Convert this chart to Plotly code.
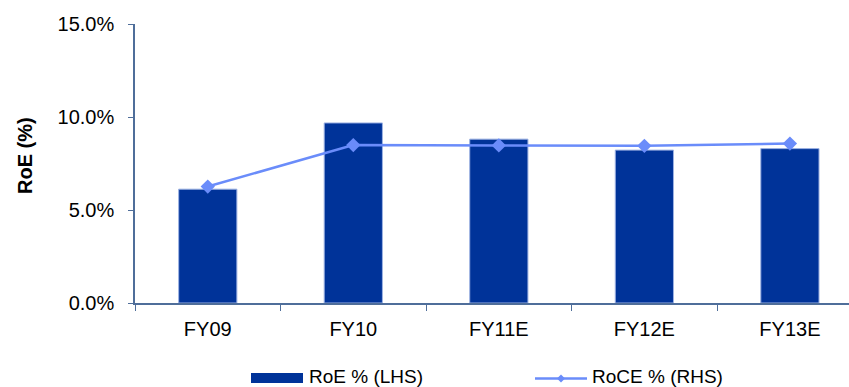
import plotly.graph_objects as go

# Return on equity (bars) and return on capital employed (line), in percent
categories = ["FY09", "FY10", "FY11E", "FY12E", "FY13E"]
roe_pct = [6.12, 9.68, 8.81, 8.22, 8.30]
roce_pct = [6.26, 8.49, 8.47, 8.45, 8.57]
y_tick_vals = [0, 5, 10, 15]
y_tick_text = ["0.0%", "5.0%", "10.0%", "15.0%"]

BAR_COLOR = "#003399"
BAR_EDGE = "#9DB2E3"
LINE_COLOR = "#6A8CFA"
AXIS_COLOR = "#4F6E9A"
FONT = "Liberation Sans, Arial, sans-serif"

W, H = 849, 387
L, T, R, B = 135, 24, 0, 84
plot_w = W - L - R
plot_h = H - T - B


def px(x):
    return (x - L) / plot_w


def py(y):
    return (H - B - y) / plot_h


fig = go.Figure()
fig.add_trace(go.Bar(
    x=categories, y=roe_pct, name="RoE % (LHS)",
    marker=dict(color=BAR_COLOR, line=dict(color=BAR_EDGE, width=1)),
    width=0.4, showlegend=False,
))
fig.add_trace(go.Scatter(
    x=categories, y=roce_pct, name="RoCE % (RHS)", mode="lines+markers",
    line=dict(color=LINE_COLOR, width=2.5),
    marker=dict(symbol="diamond", size=11, color=LINE_COLOR),
    showlegend=False,
))

shapes = [
    # legend swatch for the bars
    dict(type="rect", xref="paper", yref="paper",
         x0=px(251), x1=px(303), y0=py(383), y1=py(373),
         fillcolor=BAR_COLOR, line=dict(width=0)),
    # legend swatch for the line
    dict(type="line", xref="paper", yref="paper",
         x0=px(535), x1=px(587), y0=py(378.5), y1=py(378.5),
         line=dict(color=LINE_COLOR, width=2.5)),
    dict(type="path", xref="paper", yref="paper",
         path=(f"M {px(561)} {py(374.5)} L {px(565)} {py(378.5)} "
               f"L {px(561)} {py(382.5)} L {px(557)} {py(378.5)} Z"),
         fillcolor=LINE_COLOR, line=dict(width=0)),
]

annotations = [
    dict(text="<b>RoE (%)</b>", xref="paper", yref="paper",
         x=px(25), y=py(156), textangle=-90, showarrow=False,
         font=dict(size=20, color="black", family=FONT),
         xanchor="center", yanchor="middle"),
    dict(text="RoE % (LHS)", xref="paper", yref="paper",
         x=px(308), y=py(376), showarrow=False, xanchor="left", yanchor="middle",
         borderpad=0, font=dict(size=19, color="black", family=FONT)),
    dict(text="RoCE % (RHS)", xref="paper", yref="paper",
         x=px(591), y=py(376), showarrow=False, xanchor="left", yanchor="middle",
         borderpad=0, font=dict(size=19, color="black", family=FONT)),
]

fig.update_layout(
    width=W, height=H,
    margin=dict(l=L, r=R, t=T, b=B, pad=0),
    paper_bgcolor="white", plot_bgcolor="white",
    font=dict(family=FONT, size=20, color="black"),
    shapes=shapes, annotations=annotations,
    bargap=0.6,
)
fig.update_xaxes(
    type="category", range=[-0.5, 4.406],
    showline=True, linecolor=AXIS_COLOR, linewidth=1.5,
    ticks="outside", tickson="boundaries", ticklen=6, tickcolor=AXIS_COLOR,
    showgrid=False, zeroline=False,
    tickfont=dict(size=20, color="black", family=FONT),
    ticklabelstandoff=7,
)
fig.update_yaxes(
    range=[0, 15], tickvals=y_tick_vals, ticktext=y_tick_text,
    showline=True, linecolor=AXIS_COLOR, linewidth=1.5,
    ticks="outside", ticklen=5, tickcolor=AXIS_COLOR,
    showgrid=False, zeroline=False,
    tickfont=dict(size=20, color="black", family=FONT),
    ticklabelstandoff=10,
)

fig.write_html("out.html")
